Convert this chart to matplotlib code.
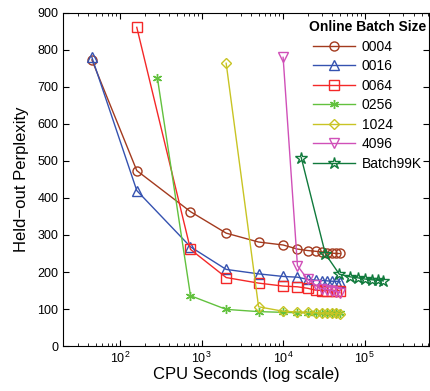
import matplotlib
matplotlib.use('Agg')
import matplotlib.pyplot as plt

plt.rcParams['font.family'] = ['Liberation Sans', 'DejaVu Sans']
plt.rcParams['mathtext.fontset'] = 'custom'
plt.rcParams['mathtext.rm'] = 'Liberation Sans'
plt.rcParams['mathtext.it'] = 'Liberation Sans'

# evaluation times (CPU seconds)
t_0004 = [45, 160, 730, 2000, 5000, 10000, 15000, 20000, 25000, 30000, 35000, 40000, 45000, 50000]
t_0016 = [45, 160, 730, 2000, 5000, 10000, 15000, 20000, 25000, 30000, 35000, 40000, 45000, 50000]
t_0064 = [160, 730, 2000, 5000, 10000, 15000, 20000, 25000, 30000, 35000, 40000, 45000, 50000]
t_0256 = [287, 730, 2000, 5000, 10000, 15000, 20000, 25000, 30000, 35000, 40000, 45000, 50000]
t_1024 = [2000, 5000, 10000, 15000, 20000, 25000, 30000, 35000, 40000, 45000, 50000]
t_4096 = [10000, 15000, 20000, 25000, 30000, 35000, 40000, 45000, 50000]
t_batch = [16700, 33000, 49000, 66500, 84000, 101600, 123000, 145000, 170000]

# held-out perplexity
y_0004 = [773, 474, 363, 305, 281, 273, 262, 258, 256, 254, 252, 251, 250, 250]
y_0016 = [780, 420, 268, 207, 195, 188, 186, 180, 178, 177, 176, 175, 175, 174]
y_0064 = [861, 261, 185, 170, 162, 160, 156, 151, 150, 150, 150, 150, 150]
y_0256 = [723, 136, 99, 93, 91, 90, 90, 89, 89, 88, 88, 88, 88]
y_1024 = [764, 106, 94, 92, 91, 90, 89, 89, 88, 88, 87]
y_4096 = [780, 217, 180, 165, 155, 152, 150, 147, 144]
y_batch = [509, 249, 194, 187, 184, 181, 179, 178, 176]

series = [
    ('0004', t_0004, y_0004, '#a33a1e', 'o'),
    ('0016', t_0016, y_0016, '#3552b0', '^'),
    ('0064', t_0064, y_0064, '#f42828', 's'),
    ('0256', t_0256, y_0256, '#62c13e', (6, 2, 0)),
    ('1024', t_1024, y_1024, '#c8c424', 'D'),
    ('4096', t_4096, y_4096, '#d050b8', 'v'),
    ('Batch99K', t_batch, y_batch, '#107a3c', '*'),
]

fig = plt.figure(figsize=(4.3, 3.91), dpi=100)
ax = fig.add_axes([0.147, 0.115, 0.851, 0.852])

for name, t, y, color, marker in series:
    ms = 6.5
    if marker == 'D':
        ms = 5.5
    if marker == '*':
        ms = 9
    ax.plot(t, y, color=color, marker=marker, markersize=ms,
            markerfacecolor='none', markeredgecolor=color,
            markeredgewidth=1.0, linewidth=1.0, label=name)

ax.set_xscale('log')
ax.set_xlim(20, 6.2e5)
ax.set_ylim(0, 900)
ax.set_yticks(range(0, 901, 100))
ax.tick_params(which='both', direction='in', top=True, right=True, labelsize=9)
ax.tick_params(which='major', length=4)
ax.tick_params(which='minor', length=2)
ax.set_xlabel('CPU Seconds (log scale)', fontsize=12, labelpad=1)
ax.set_ylabel('Held\u2212out Perplexity', fontsize=12, labelpad=6)

leg = ax.legend(loc='upper right', bbox_to_anchor=(1.0, 0.987), frameon=False,
                fontsize=10, title='Online Batch Size', handlelength=3,
                handletextpad=0.5, borderaxespad=0, borderpad=0.2,
                labelspacing=0.4)
leg.get_title().set_fontweight('bold')
leg.get_title().set_fontsize(10)

plt.savefig('out.png', dpi=100)
